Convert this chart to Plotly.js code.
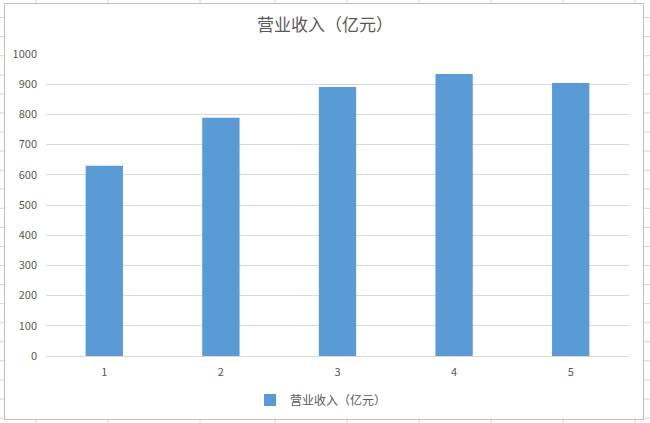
<!DOCTYPE html>
<html>
<head>
<meta charset="utf-8">
<script src="https://cdn.plot.ly/plotly-3.0.1.min.js"></script>
<style>html,body{margin:0;padding:0;background:#fff;}#chart{width:650px;height:423px;}</style>
</head>
<body>
<div id="chart"></div>
<script>
const categories = ["1", "2", "3", "4", "5"];
const revenue = [630, 789, 891, 934, 904];
const seriesName = "营业收入（亿元）";
const chartTitle = "营业收入（亿元）";

const W = 650, H = 423;
const L = 46, R = 629, T = 54, B = 356;
const px = x => (x - L) / (R - L);
const py = y => (B - y) / (B - T);

const shapes = [];
const sheetLine = {color: "#D4D4D4", width: 1};
// spreadsheet cell lines outside the chart frame
const colX = [36, 108, 200, 275, 347, 419, 491, 563, 635];
colX.forEach(x => {
  shapes.push({type: "line", xref: "paper", yref: "paper", x0: px(x), x1: px(x), y0: py(0), y1: py(3), line: sheetLine, layer: "below"});
  shapes.push({type: "line", xref: "paper", yref: "paper", x0: px(x), x1: px(x), y0: py(419), y1: py(423), line: sheetLine, layer: "below"});
});
for (let y = 17.6; y < 423; y += 19.07) {
  shapes.push({type: "line", xref: "paper", yref: "paper", x0: px(0), x1: px(4), y0: py(y), y1: py(y), line: sheetLine, layer: "below"});
  shapes.push({type: "line", xref: "paper", yref: "paper", x0: px(643), x1: px(650), y0: py(y), y1: py(y), line: sheetLine, layer: "below"});
}
// chart frame
shapes.push({type: "rect", xref: "paper", yref: "paper", x0: px(4.5), x1: px(643.5), y0: py(3.5), y1: py(419.5), line: {color: "#BFBFBF", width: 1}, fillcolor: "rgba(0,0,0,0)", layer: "below"});

const trace = {
  type: "bar",
  x: categories,
  y: revenue,
  name: seriesName,
  marker: {color: "#5B9BD5"},
  hoverinfo: "none"
};

const font = "'Noto Sans CJK SC', 'Microsoft YaHei', sans-serif";

const layout = {
  width: W, height: H,
  margin: {l: L, r: W - R, t: T, b: H - B, pad: 0, autoexpand: false},
  paper_bgcolor: "#ffffff",
  plot_bgcolor: "#ffffff",
  font: {family: font, color: "#595959", size: 11},
  title: {text: chartTitle, font: {family: font, size: 17, color: "#595959"}, x: 0.5, xanchor: "center", y: 1 - 25 / H, yanchor: "middle"},
  bargap: 0.68,
  showlegend: true,
  legend: {orientation: "h", x: px(250), xanchor: "left", xref: "paper", y: py(400), yanchor: "middle", font: {family: font, size: 12, color: "#595959"}, itemwidth: 30},
  xaxis: {
    type: "category",
    showgrid: false,
    showline: true,
    linecolor: "#D9D9D9",
    linewidth: 1,
    ticks: "",
    tickfont: {family: font, size: 11, color: "#595959"},
    ticklabelstandoff: 6,
    zeroline: false,
    automargin: false,
    fixedrange: true
  },
  yaxis: {
    range: [0, 1000],
    dtick: 100,
    tick0: 0,
    showgrid: true,
    gridcolor: "#D9D9D9",
    gridwidth: 1,
    zeroline: false,
    showline: false,
    ticks: "",
    ticklabelstandoff: 8,
    tickfont: {family: font, size: 11, color: "#595959"},
    automargin: false,
    fixedrange: true
  },
  shapes: shapes
};

Plotly.newPlot("chart", [trace], layout, {staticPlot: true, displayModeBar: false});
</script>
</body>
</html>
